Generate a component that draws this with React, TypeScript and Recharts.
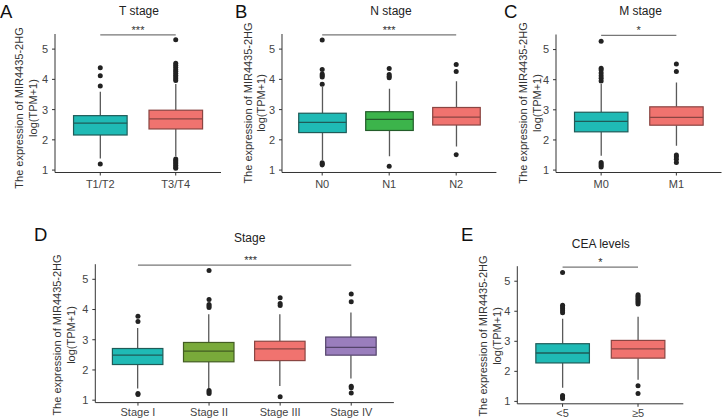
import { Bar, ComposedChart, ReferenceLine, Scatter, XAxis, YAxis } from 'recharts';

const FONT = '"Liberation Sans", Arial, sans-serif';
const AXIS = '#333333';
const TICK_TEXT = '#444444';
const WHISKER = '#595959';
const DOMAIN: [number, number] = [0.92, 5.5];
const Y_TICKS = [1, 2, 3, 4, 5];
const SIG_Y = 5.47;

// T stage
const tCats = ['T1/T2', 'T3/T4'];
const tQ1 = [2.16, 2.36];
const tMed = [2.55, 2.69];
const tQ3 = [2.8, 2.98];
const tLo = [1.38, 1.46];
const tHi = [3.59, 3.85];
const tOut = [
  [4.38, 4.12, 3.78, 1.2],
  [5.31, 4.53, 4.47, 4.4, 4.33, 4.27, 4.2, 4.14, 4.08, 4.02, 3.96, 1.37, 1.32, 1.27, 1.22, 1.16, 1.1, 1.06],
];

// N stage
const nCats = ['N0', 'N1', 'N2'];
const nQ1 = [2.24, 2.31, 2.49];
const nMed = [2.58, 2.68, 2.75];
const nQ3 = [2.88, 2.93, 3.07];
const nLo = [1.33, 1.46, 1.78];
const nHi = [3.75, 3.69, 3.94];
const nOut = [
  [5.3, 4.33, 4.18, 4.13, 4.08, 3.84, 1.24, 1.2, 1.17],
  [4.36, 4.16, 4.1, 4.05, 1.13],
  [4.49, 4.26, 1.51],
];

// M stage
const mCats = ['M0', 'M1'];
const mQ1 = [2.27, 2.49];
const mMed = [2.62, 2.75];
const mQ3 = [2.92, 3.1];
const mLo = [1.48, 1.81];
const mHi = [3.86, 3.91];
const mOut = [
  [5.28, 4.38, 4.32, 4.22, 4.13, 4.05, 3.96, 1.25, 1.2, 1.15, 1.1],
  [4.52, 4.27, 1.5, 1.44, 1.36, 1.25],
];

// Stage
const sCats = ['Stage I', 'Stage II', 'Stage III', 'Stage IV'];
const sQ1 = [2.18, 2.27, 2.31, 2.49];
const sMed = [2.49, 2.62, 2.7, 2.75];
const sQ3 = [2.71, 2.91, 2.95, 3.09];
const sLo = [1.39, 1.39, 1.47, 1.72];
const sHi = [3.39, 3.84, 3.84, 3.9];
const sOut = [
  [3.78, 3.6, 1.22, 1.19],
  [5.29, 4.33, 4.17, 4.12, 4.07, 1.32, 1.27, 1.22],
  [4.39, 4.2, 4.13, 1.11],
  [4.51, 4.26, 1.46, 1.41, 1.24],
];

// CEA levels
const cCats = ['<5', '≥5'];
const cQ1 = [2.28, 2.44];
const cMed = [2.61, 2.75];
const cQ3 = [2.92, 3.03];
const cLo = [1.45, 1.72];
const cHi = [3.75, 3.82];
const cOut = [
  [5.29, 4.2, 4.14, 4.08, 4.02, 3.95, 1.2, 1.15, 1.1],
  [4.55, 4.5, 4.45, 4.4, 4.35, 4.3, 4.24, 1.52, 1.26],
];

const TEAL = ['#1fbab5', '#1f5b58'];
const RED = ['#f0736f', '#8a4542'];
const GREEN = ['#3cb44b', '#235c2a'];
const OLIVE = ['#79aa3a', '#435d22'];
const PURPLE = ['#9a7ebd', '#54446b'];

function BoxShape(props: any) {
  const { x, y, width, height, payload } = props;
  const top = Math.min(y, y + height);
  const h = Math.abs(height);
  const k = h / (payload.q3 - payload.q1);
  const py = (v: number) => top + (payload.q3 - v) * k;
  const cx = x + width / 2;
  return (
    <g>
      <line x1={cx} x2={cx} y1={py(payload.hi)} y2={top} stroke={WHISKER} strokeWidth={1.3} />
      <line x1={cx} x2={cx} y1={top + h} y2={py(payload.lo)} stroke={WHISKER} strokeWidth={1.3} />
      <rect x={x} y={top} width={width} height={h} fill={payload.fill} stroke={payload.stroke} strokeWidth={1.2} />
      <line x1={x} x2={x + width} y1={py(payload.med)} y2={py(payload.med)} stroke={payload.stroke} strokeWidth={1.3} />
    </g>
  );
}

function Dot(props: any) {
  return <circle cx={props.cx} cy={props.cy} r={2.5} fill="#222" />;
}

interface PanelProps {
  cats: string[];
  q1: number[];
  med: number[];
  q3: number[];
  lo: number[];
  hi: number[];
  out: number[][];
  colors: string[][];
  stars: string;
  starDx?: number;
  left: number;
  top: number;
  plotTop: number;
  plotH: number;
  yAxisW: number;
  plotW: number;
  rightM: number;
  tickGap: number;
  labelX1: number;
  labelX2: number;
  labelCy: number;
}

function BoxPanel(p: PanelProps) {
  const n = p.cats.length;
  const band = p.plotW / (n + 0.2);
  const rows = p.cats.map((name, i) => ({
    name,
    box: [p.q1[i], p.q3[i]],
    q1: p.q1[i],
    med: p.med[i],
    q3: p.q3[i],
    lo: p.lo[i],
    hi: p.hi[i],
    fill: p.colors[i][0],
    stroke: p.colors[i][1],
  }));
  const outliers = p.cats.flatMap((name, i) => p.out[i].map((v) => ({ name, v })));
  const marginTop = p.plotTop - p.top;
  const width = p.yAxisW + p.plotW + p.rightM;
  const height = marginTop + p.plotH + 22;
  const lx1 = p.labelX1 - p.left;
  const lx2 = p.labelX2 - p.left;
  const lcy = p.labelCy - p.top;

  return (
    <div style={{ position: 'absolute', left: p.left, top: p.top }}>
      <ComposedChart
        width={width}
        height={height}
        data={rows}
        margin={{ top: marginTop, right: p.rightM, bottom: 0, left: 0 }}
      >
        <XAxis
          dataKey="name"
          type="category"
          allowDuplicatedCategory={false}
          interval={0}
          height={22}
          padding={{ left: band * 0.1, right: band * 0.1 }}
          tickSize={3}
          tickMargin={p.tickGap}
          axisLine={{ stroke: AXIS }}
          tickLine={{ stroke: AXIS }}
          tick={{ fontSize: 11, fill: TICK_TEXT, fontFamily: FONT }}
        />
        <YAxis
          type="number"
          domain={DOMAIN}
          ticks={Y_TICKS}
          allowDataOverflow
          width={p.yAxisW}
          tickSize={3}
          tickMargin={4}
          axisLine={{ stroke: AXIS }}
          tickLine={{ stroke: AXIS }}
          tick={{ fontSize: 11, fill: TICK_TEXT, fontFamily: FONT }}
          label={{
            content: () => (
              <g fontSize={11} fill="#333" fontFamily={FONT}>
                <text transform={`translate(${lx1},${lcy}) rotate(-90)`} textAnchor="middle" dominantBaseline="central">
                  The expression of MIR4435-2HG
                </text>
                <text transform={`translate(${lx2},${lcy}) rotate(-90)`} textAnchor="middle" dominantBaseline="central">
                  log(TPM+1)
                </text>
              </g>
            ),
          }}
        />
        <Bar dataKey="box" barSize={band * 0.71} shape={BoxShape} isAnimationActive={false} />
        <Scatter data={outliers} dataKey="v" shape={Dot} isAnimationActive={false} />
        <ReferenceLine
          segment={[
            { x: p.cats[0], y: SIG_Y },
            { x: p.cats[n - 1], y: SIG_Y },
          ]}
          stroke="#777"
          strokeWidth={1.3}
          ifOverflow="visible"
          label={{ value: p.stars, position: 'top', offset: 1, fontSize: 11, fill: '#333', dx: p.starDx ?? 0 }}
        />
      </ComposedChart>
    </div>
  );
}

function Letter({ ch, left, top }: { ch: string; left: number; top: number }) {
  return (
    <div style={{ position: 'absolute', left, top, fontSize: 18.5, lineHeight: '18.5px', color: '#111' }}>{ch}</div>
  );
}

function Title({ text, cx, top }: { text: string; cx: number; top: number }) {
  return (
    <div
      style={{
        position: 'absolute',
        left: cx - 60,
        width: 120,
        top,
        textAlign: 'center',
        fontSize: 12,
        lineHeight: '12px',
        color: '#222',
      }}
    >
      {text}
    </div>
  );
}

export default function App() {
  return (
    <div style={{ position: 'relative', width: 722, height: 420, background: '#fff', fontFamily: FONT, overflow: 'hidden' }}>
      <style>{`body{margin:0}`}</style>

      <BoxPanel
        cats={tCats} q1={tQ1} med={tMed} q3={tQ3} lo={tLo} hi={tHi} out={tOut}
        colors={[TEAL, RED]} stars="***"
        left={0} top={0} plotTop={34} plotH={138.5} yAxisW={55} plotW={166} rightM={5} tickGap={5}
        labelX1={19} labelX2={32.5} labelCy={108}
      />
      <BoxPanel
        cats={nCats} q1={nQ1} med={nMed} q3={nQ3} lo={nLo} hi={nHi} out={nOut}
        colors={[TEAL, GREEN, RED]} stars="***"
        left={236} top={0} plotTop={34} plotH={138.5} yAxisW={46} plotW={214.4} rightM={2} tickGap={5}
        labelX1={247.7} labelX2={261.2} labelCy={103}
      />
      <BoxPanel
        cats={mCats} q1={mQ1} med={mMed} q3={mQ3} lo={mLo} hi={mHi} out={mOut}
        colors={[TEAL, RED]} stars="*"
        left={490} top={0} plotTop={34.5} plotH={138} yAxisW={66} plotW={165.5} rightM={0.5} tickGap={5}
        labelX1={523} labelX2={536.5} labelCy={103}
      />
      <BoxPanel
        cats={sCats} q1={sQ1} med={sMed} q3={sQ3} lo={sLo} hi={sHi} out={sOut}
        colors={[TEAL, OLIVE, RED, PURPLE]} stars="***" starDx={6}
        left={0} top={200} plotTop={264.2} plotH={138.4} yAxisW={95.3} plotW={298.6} rightM={6} tickGap={3}
        labelX1={57.5} labelX2={71} labelCy={335}
      />
      <BoxPanel
        cats={cCats} q1={cQ1} med={cMed} q3={cQ3} lo={cLo} hi={cHi} out={cOut}
        colors={[TEAL, RED]} stars="*"
        left={470} top={200} plotTop={266.2} plotH={137.6} yAxisW={47.3} plotW={166} rightM={2} tickGap={2}
        labelX1={483.5} labelX2={497} labelCy={336}
      />

      <Letter ch="A" left={0} top={2.6} />
      <Letter ch="B" left={235} top={2.6} />
      <Letter ch="C" left={504} top={2.6} />
      <Letter ch="D" left={34} top={226} />
      <Letter ch="E" left={461} top={226} />

      <Title text="T stage" cx={139} top={5.2} />
      <Title text="N stage" cx={391} top={5.2} />
      <Title text="M stage" cx={640.5} top={5.2} />
      <Title text="Stage" cx={249.7} top={231.8} />
      <Title text="CEA levels" cx={600.8} top={237.7} />
    </div>
  );
}
